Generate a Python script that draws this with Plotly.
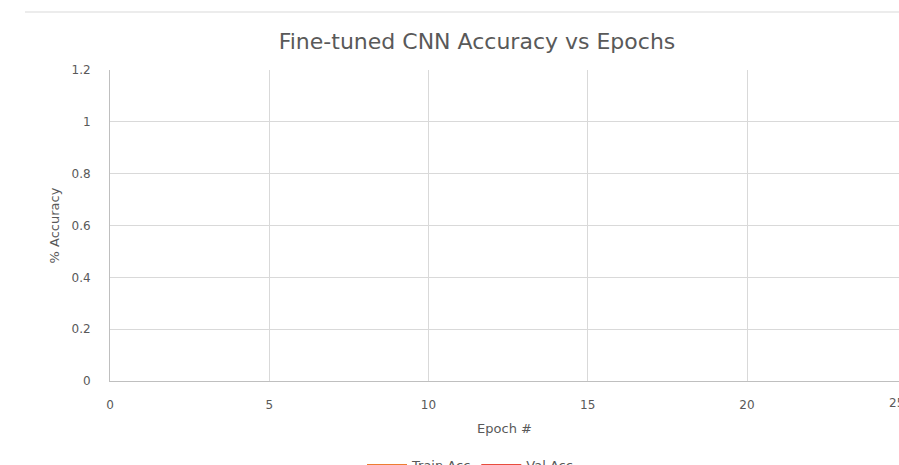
import plotly.graph_objects as go

# Data (no visible points in the reference plot area)
epochs = []
train_acc = []
val_acc = []

series_names = ["Train Acc", "Val Acc"]
series_colors = ["#ED7D31", "#E84C3D"]
x_ticks = [0, 5, 10, 15, 20, 25]
y_ticks = [0, 0.2, 0.4, 0.6, 0.8, 1, 1.2]

W, H = 899, 465
ml, mr, mt, mb = 110, 0, 70, 84
unit_px = 31.85
x_max = (W - ml - mr) / unit_px

fig = go.Figure()
for name, ys, col in zip(series_names, [train_acc, val_acc], series_colors):
    fig.add_trace(go.Scatter(x=epochs if epochs else [None], y=ys if ys else [None],
                             mode="lines", name=name,
                             line=dict(color=col, width=2.25)))

font_fam = "DejaVu Sans, Open Sans, sans-serif"
gray = "#595959"

fig.update_layout(
    width=W, height=H,
    margin=dict(l=ml, r=mr, t=mt, b=mb, autoexpand=False),
    paper_bgcolor="white", plot_bgcolor="white",
    title=dict(text="Fine-tuned CNN Accuracy vs Epochs", x=477/W, xanchor="center",
               y=1 - 41/H, yanchor="middle", yref="container",
               font=dict(family=font_fam, size=22, color=gray)),
    showlegend=True,
    legend=dict(orientation="h", x=(470 - ml) / (W - ml - mr), xanchor="center",
                yref="container", y=0.032,
                yanchor="top", font=dict(family=font_fam, size=13, color=gray),
                itemwidth=40, bgcolor="rgba(0,0,0,0)"),
    xaxis=dict(range=[0, x_max], tickvals=x_ticks, ticktext=[str(t) for t in x_ticks],
               showgrid=True, gridcolor="#d9d9d9", gridwidth=1,
               showline=True, linecolor="#bfbfbf", linewidth=1, zeroline=False,
               ticks="", ticklabelstandoff=13,
               tickfont=dict(family=font_fam, size=12, color=gray),
               title=dict(text="Epoch #", standoff=12,
                          font=dict(family=font_fam, size=13, color=gray))),
    yaxis=dict(range=[0, 1.2], tickvals=y_ticks, ticktext=[str(t) for t in y_ticks],
               showgrid=True, gridcolor="#d9d9d9", gridwidth=1,
               showline=True, linecolor="#bfbfbf", linewidth=1, zeroline=False,
               ticks="", ticklabelstandoff=16,
               tickfont=dict(family=font_fam, size=12, color=gray),
               title=dict(text="% Accuracy", standoff=8,
                          font=dict(family=font_fam, size=13, color=gray))),
)

# partially visible last tick label (beyond right edge of canvas)
fig.add_annotation(x=x_ticks[-1] / x_max, y=0, xref="paper", yref="paper",
                   text=str(x_ticks[-1]), showarrow=False, yanchor="top", yshift=-13,
                   font=dict(family=font_fam, size=12, color=gray))

# chart-area top border line
fig.add_shape(type="line", xref="paper", yref="paper",
              x0=(25 - ml) / (W - ml - mr), x1=1.0,
              y0=1 + (70 - 12) / (H - mt - mb), y1=1 + (70 - 12) / (H - mt - mb),
              line=dict(color="#d9d9d9", width=1))

fig.write_html("out.html", config={"displayModeBar": False},
               post_script="document.body.style.margin='0';document.body.style.overflow='hidden';")
